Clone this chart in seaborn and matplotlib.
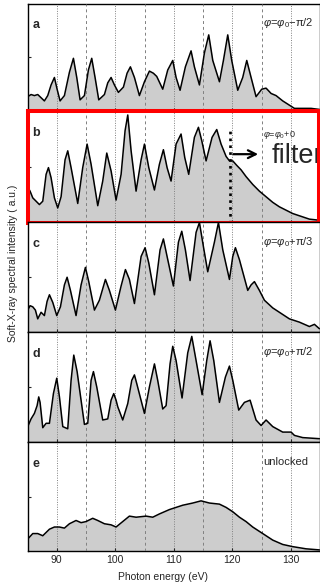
import matplotlib.pyplot as plt
import seaborn as sns
from matplotlib.patches import Rectangle

# Spectra (energy in eV, intensity as fraction of panel height)
energy_a = [85.04, 85.61, 86.18, 86.75, 87.32, 87.89, 88.46, 89.03, 89.60, 90.06, 90.57, 91.31, 92.17,
            92.85, 93.42, 93.99, 94.73, 95.41, 95.98, 96.55, 97.18, 98.15, 98.72, 99.29, 99.86, 100.54,
            101.40, 102.02, 102.59, 103.28, 104.13, 104.99, 105.84, 106.52, 107.09, 108.12, 108.97,
            109.83, 110.40, 111.08, 111.99, 112.96, 113.53, 114.39, 115.24, 115.98, 116.67, 117.81,
            118.49, 119.23, 119.91, 120.94, 121.79, 122.48, 123.22, 124.07, 125.04, 125.78, 126.64,
            127.49, 128.63, 129.77, 130.63, 131.77, 133.48, 134.90]
signal_a = [0.13, 0.15, 0.14, 0.15, 0.12, 0.09, 0.14, 0.24, 0.31, 0.20, 0.09, 0.14, 0.36,
            0.49, 0.31, 0.10, 0.14, 0.38, 0.49, 0.31, 0.10, 0.15, 0.26, 0.31, 0.24, 0.17,
            0.22, 0.35, 0.41, 0.31, 0.14, 0.27, 0.37, 0.35, 0.32, 0.20, 0.38,
            0.47, 0.31, 0.19, 0.41, 0.56, 0.41, 0.24, 0.54, 0.71, 0.47, 0.27,
            0.47, 0.71, 0.47, 0.19, 0.31, 0.47, 0.31, 0.13, 0.20, 0.21, 0.16,
            0.14, 0.09, 0.05, 0.02, 0.02, 0.02, 0.01]

energy_b = [85.00, 85.44, 85.90, 86.47, 87.04, 87.61, 88.18, 88.58, 89.03, 89.60, 90.17, 90.74, 91.42,
            91.88, 92.45, 93.59, 94.44, 95.19, 95.87, 97.01, 97.86, 98.55, 99.29, 100.14, 101.00,
            101.68, 102.14, 102.71, 103.56, 104.42, 104.99, 105.73, 106.70, 107.55, 108.23, 108.86,
            109.54, 110.40, 111.25, 111.88, 112.56, 113.53, 114.22, 114.79, 115.53, 116.55, 117.35,
            118.09, 118.95, 119.52, 120.09, 120.77, 121.51, 122.36, 123.50, 124.64, 125.78, 126.92,
            128.06, 129.20, 130.34, 131.48, 133.19, 134.90]
signal_b = [0.32, 0.28, 0.22, 0.19, 0.16, 0.19, 0.43, 0.49, 0.40, 0.22, 0.13, 0.23, 0.56,
            0.64, 0.49, 0.17, 0.49, 0.70, 0.52, 0.15, 0.37, 0.62, 0.46, 0.20, 0.43,
            0.82, 0.96, 0.64, 0.28, 0.56, 0.70, 0.49, 0.29, 0.52, 0.65, 0.49,
            0.37, 0.70, 0.79, 0.58, 0.43, 0.76, 0.85, 0.73, 0.55, 0.76, 0.83,
            0.70, 0.59, 0.55, 0.55, 0.51, 0.47, 0.41, 0.34, 0.28, 0.23, 0.18,
            0.14, 0.11, 0.08, 0.06, 0.03, 0.02]

energy_c = [85.04, 85.44, 85.90, 86.35, 86.75, 87.32, 87.89, 88.35, 88.75, 89.32, 90.00, 90.63, 91.31,
            91.77, 92.34, 93.30, 94.16, 94.90, 95.47, 96.44, 97.29, 98.32, 99.00, 100.03, 101.00,
            101.74, 102.42, 103.28, 104.42, 105.10, 105.73, 106.70, 107.66, 108.23, 108.86, 109.94,
            110.80, 111.37, 111.99, 112.79, 113.82, 114.39, 115.07, 115.81, 116.95, 117.64, 118.38,
            119.52, 120.09, 120.54, 121.23, 122.65, 123.22, 123.79, 124.64, 125.50, 126.92, 128.63,
            129.77, 131.48, 133.19, 134.05, 134.90]
signal_c = [0.20, 0.24, 0.23, 0.20, 0.12, 0.18, 0.15, 0.28, 0.34, 0.27, 0.15, 0.23, 0.43,
            0.50, 0.38, 0.15, 0.43, 0.59, 0.46, 0.20, 0.29, 0.48, 0.38, 0.20, 0.42,
            0.57, 0.48, 0.26, 0.69, 0.77, 0.63, 0.34, 0.75, 0.85, 0.69, 0.42,
            0.82, 0.92, 0.75, 0.47, 0.91, 1.00, 0.78, 0.55, 0.82, 1.00, 0.75,
            0.48, 0.69, 0.77, 0.66, 0.38, 0.43, 0.46, 0.38, 0.29, 0.22, 0.16,
            0.12, 0.09, 0.05, 0.07, 0.03]

energy_d = [85.04, 85.61, 86.18, 86.64, 86.92, 87.15, 87.61, 88.18, 88.75, 89.43, 90.00, 90.46, 91.03,
            91.88, 92.45, 92.91, 93.48, 94.73, 95.30, 95.87, 96.27, 96.84, 97.86, 98.72, 99.29,
            99.74, 100.14, 100.43, 101.28, 102.14, 102.82, 103.28, 103.68, 104.99, 105.84, 106.70,
            107.26, 108.12, 108.69, 109.37, 109.83, 110.40, 111.42, 112.39, 113.08, 113.82, 114.85,
            115.64, 116.21, 116.84, 117.81, 118.83, 119.52, 120.09, 121.11, 122.08, 123.05, 124.07,
            124.93, 125.78, 126.92, 128.63, 130.06, 130.63, 132.05, 134.90]
signal_d = [0.14, 0.21, 0.26, 0.33, 0.41, 0.36, 0.13, 0.17, 0.17, 0.44, 0.58, 0.41, 0.14,
            0.12, 0.56, 0.79, 0.64, 0.16, 0.17, 0.56, 0.64, 0.50, 0.20, 0.21, 0.38,
            0.44, 0.38, 0.32, 0.20, 0.35, 0.56, 0.61, 0.53, 0.26, 0.50, 0.71,
            0.56, 0.30, 0.33, 0.71, 0.87, 0.74, 0.40, 0.81, 0.96, 0.74, 0.43,
            0.74, 0.92, 0.74, 0.36, 0.59, 0.69, 0.56, 0.29, 0.36, 0.38, 0.20,
            0.15, 0.20, 0.14, 0.09, 0.09, 0.06, 0.04, 0.03]

energy_e = [85.04, 85.90, 86.75, 87.61, 88.75, 89.60, 90.46, 91.31, 92.17, 93.30, 94.16, 95.01, 96.15,
            97.01, 98.15, 99.29, 100.14, 101.28, 102.42, 103.56, 105.27, 106.41, 107.55, 109.26,
            111.54, 113.25, 114.67, 116.10, 117.81, 118.95, 120.09, 121.23, 122.36, 123.50, 124.64,
            125.78, 126.92, 128.63, 130.34, 132.62, 134.90]
signal_e = [0.11, 0.16, 0.16, 0.14, 0.20, 0.22, 0.22, 0.21, 0.25, 0.28, 0.26, 0.27, 0.30,
            0.28, 0.25, 0.24, 0.22, 0.27, 0.32, 0.31, 0.32, 0.31, 0.34, 0.38,
            0.42, 0.44, 0.46, 0.44, 0.43, 0.40, 0.36, 0.31, 0.27, 0.22, 0.18,
            0.14, 0.10, 0.06, 0.04, 0.02, 0.01]

energies = [energy_a, energy_b, energy_c, energy_d, energy_e]
signals = [signal_a, signal_b, signal_c, signal_d, signal_e]
panel_labels = ["a", "b", "c", "d", "e"]
phase_labels = [r"$\varphi$=$\varphi_0$−π/2", r"$\varphi$=$\varphi_0$+0", r"$\varphi$=$\varphi_0$+π/3",
                r"$\varphi$=$\varphi_0$+π/2", "unlocked"]
major_ticks = [90, 100, 110, 120, 130]
minor_ticks = [95, 105, 115, 125]
filter_energy = 119.6


sns.set_style("ticks")
plt.rcParams["font.family"] = ["Liberation Sans", "DejaVu Sans"]
plt.rcParams["mathtext.fontset"] = "custom"
plt.rcParams["mathtext.rm"] = "Liberation Sans"
plt.rcParams["mathtext.it"] = "Liberation Sans:italic"

W, H = 320, 583
fig = plt.figure(figsize=(W / 100, H / 100), dpi=100)

# panel borders in pixels from the top
edges = [4, 110.5, 222.5, 332, 442, 551]
left_px = 27.5

axes = []
for i in range(5):
    bottom = 1 - edges[i + 1] / H
    height = (edges[i + 1] - edges[i]) / H
    ax = fig.add_axes([left_px / W, bottom, 1 - left_px / W, height])
    axes.append(ax)

    ax.fill_between(energies[i], signals[i], 0, color="#cdcdcd", lw=0, zorder=1)
    sns.lineplot(x=energies[i], y=signals[i], ax=ax, color="black", lw=1.1,
                 estimator=None, sort=False, zorder=3)

    ax.set_xlim(85, 135)
    ax.set_ylim(0, 1.0)
    ax.set_xticks(major_ticks)
    ax.set_xticks(minor_ticks, minor=True)
    ax.set_yticks([0.5])
    ax.set_yticklabels([])
    ax.tick_params(axis="both", which="both", direction="in", length=2.5, width=0.8)
    ax.tick_params(axis="x", which="minor", length=0)
    ax.set_axisbelow(False)
    ax.xaxis.grid(True, which="major", color="#808080", lw=0.7, ls=(0, (1, 1.5)), zorder=2)
    ax.xaxis.grid(True, which="minor", color="#808080", lw=0.7, ls=(0, (3, 3)), zorder=2)
    for s in ax.spines.values():
        s.set_linewidth(1.0)
        s.set_color("black")
    ax.set_ylabel("")
    ax.set_xlabel("")

    ax.text(0.017, 0.80, panel_labels[i], transform=ax.transAxes, fontsize=9,
            fontweight="bold", ha="left", va="center")
    fs = 6.5 if i == 1 else 8
    ax.text(0.805, 0.82 if i != 1 else 0.78, phase_labels[i], transform=ax.transAxes,
            fontsize=fs, ha="left", va="center")

    if i < 4:
        ax.tick_params(axis="x", labelbottom=False)
    else:
        ax.tick_params(axis="x", labelsize=7.5, pad=3)
        ax.set_xlabel("Photon energy (eV)", fontsize=7.5, labelpad=1)
        ax.xaxis.set_label_coords(0.464, -0.19)

# filter marker in panel b
ax_b = axes[1]
ax_b.axvline(filter_energy, ymin=0, ymax=0.85, color="black", lw=1.9,
             ls=(0, (1, 1.6)), zorder=4)
ax_b.annotate("", xy=(124.9, 0.61), xytext=(119.7, 0.61),
              arrowprops=dict(arrowstyle="->", lw=1.6, mutation_scale=14, color="black"),
              zorder=5)
ax_b.text(126.7, 0.53, "filter", fontsize=19.5, ha="left", va="baseline",
          clip_on=False, zorder=5)
ax_b.add_patch(Rectangle((0, 0), 0.997, 1.0, transform=ax_b.transAxes, fill=False,
                         edgecolor="#ff0000", lw=2.9, clip_on=False, zorder=10))

fig.text(13 / W, 1 - 263 / H, "Soft-X-ray spectral intensity ( a.u.)", rotation=90,
         fontsize=7.5, ha="center", va="center")

fig.savefig("out.png", dpi=100)
